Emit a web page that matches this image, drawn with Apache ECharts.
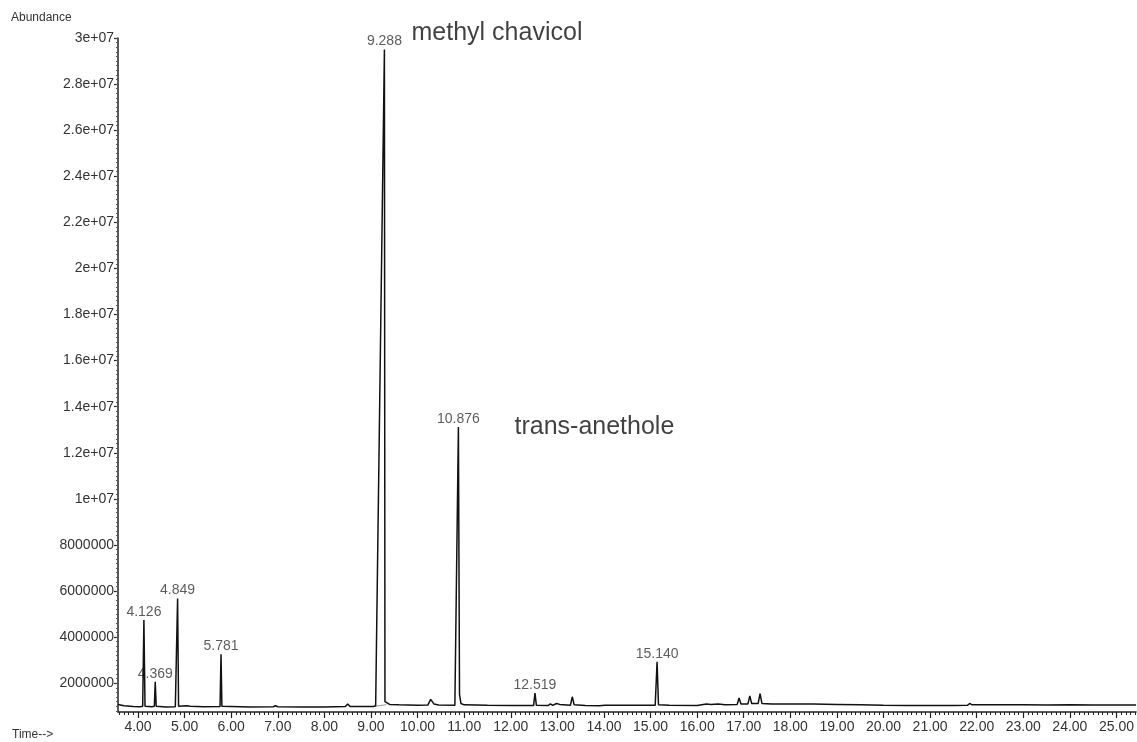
<!DOCTYPE html>
<html>
<head>
<meta charset="utf-8">
<script src="https://cdn.jsdelivr.net/npm/echarts@6/dist/echarts.min.js"></script>
<style>
html,body{margin:0;padding:0;background:#fff;}
#chart{width:1137px;height:742px;}
</style>
</head>
<body>
<div id="chart"></div>
<script>
// Retention time (min) and abundance of the trace
const traceTime = [3.57,3.70,3.90,4.05,4.10,4.126,4.15,4.30,4.35,4.369,4.39,4.60,4.80,4.83,4.849,4.87,5.05,5.08,5.12,5.40,5.76,5.781,5.80,6.00,6.40,6.90,6.95,7.00,7.50,8.00,8.45,8.50,8.55,9.05,9.10,9.288,9.30,9.31,9.40,9.60,10.00,10.22,10.28,10.35,10.45,10.80,10.82,10.876,10.90,10.93,11.00,11.50,12.00,12.49,12.519,12.55,12.80,12.85,12.90,12.98,13.05,13.28,13.32,13.36,13.60,13.90,14.02,14.05,14.09,14.33,14.36,14.40,14.64,14.67,14.71,15.10,15.140,15.17,15.40,16.00,16.20,16.30,16.45,16.60,16.86,16.90,16.94,17.09,17.13,17.17,17.31,17.35,17.39,17.60,18.00,18.50,19.00,19.50,20.00,20.50,21.00,21.50,21.80,21.85,21.90,22.50,23.00,23.50,24.00,24.50,25.00,25.42];
const traceAbundance = [1.08e6,1.02e6,0.99e6,0.98e6,1.00e6,4.74e6,1.00e6,0.98e6,1.00e6,2.06e6,1.00e6,0.97e6,0.98e6,1.00e6,5.68e6,1.00e6,1.02e6,1.08e6,1.00e6,0.98e6,0.99e6,3.26e6,1.00e6,0.99e6,0.97e6,0.98e6,1.02e6,0.98e6,0.97e6,0.97e6,0.99e6,1.10e6,0.99e6,0.99e6,1.02e6,2.95e7,1.20e6,1.12e6,1.08e6,1.06e6,1.04e6,1.05e6,1.30e6,1.10e6,1.05e6,1.04e6,1.05e6,1.312e7,1.50e6,1.12e6,1.06e6,1.04e6,1.03e6,1.03e6,1.57e6,1.04e6,1.03e6,1.10e6,1.04e6,1.12e6,1.08e6,1.04e6,1.41e6,1.06e6,1.03e6,1.02e6,1.04e6,1.12e6,1.04e6,1.04e6,1.09e6,1.04e6,1.04e6,1.09e6,1.04e6,1.04e6,2.93e6,1.06e6,1.04e6,1.03e6,1.10e6,1.08e6,1.10e6,1.06e6,1.08e6,1.36e6,1.10e6,1.10e6,1.45e6,1.12e6,1.12e6,1.55e6,1.12e6,1.10e6,1.10e6,1.10e6,1.08e6,1.06e6,1.04e6,1.03e6,1.03e6,1.03e6,1.04e6,1.12e6,1.06e6,1.07e6,1.06e6,1.05e6,1.06e6,1.05e6,1.05e6,1.05e6];

// Integration baseline under the main peak
const baselineTime = [9.10, 9.33];
const baselineAbundance = [1.00e6, 1.07e6];

// Labelled peaks
const peakTime = [4.126, 4.369, 4.849, 5.781, 9.288, 10.876, 12.519, 15.140];
const peakAbundance = [4.74e6, 2.06e6, 5.68e6, 3.26e6, 2.95e7, 1.312e7, 1.57e6, 2.93e6];

// Compound names
const compoundNames = ['methyl chavicol', 'trans-anethole'];
const compoundTime = [9.87, 12.08];
const compoundAbundance = [3.022e7, 1.31e7];

// Tick labels
const xTickValues = [4,5,6,7,8,9,10,11,12,13,14,15,16,17,18,19,20,21,22,23,24,25];
const yTickValues = [2e6,4e6,6e6,8e6,1e7,1.2e7,1.4e7,1.6e7,1.8e7,2e7,2.2e7,2.4e7,2.6e7,2.8e7,3e7];
const yTickLabels = ['2000000','4000000','6000000','8000000','1e+07','1.2e+07','1.4e+07','1.6e+07','1.8e+07','2e+07','2.2e+07','2.4e+07','2.6e+07','2.8e+07','3e+07'];

const X_MIN = 3.57, X_MAX = 25.42, Y_MIN = 750000, Y_MAX = 3e7;

const xMinor = [];
for (let i = 36; i <= 254; i++) xMinor.push(i / 10);
const yMinor = [];
for (let i = 4; i <= 150; i++) yMinor.push(i * 2e5);

const FONT = 'Liberation Sans, Arial, sans-serif';
const AXIS_COLOR = '#222';

const chart = echarts.init(document.getElementById('chart'), null, {renderer: 'canvas'});
const option = {
  animation: false,
  backgroundColor: '#fff',
  grid: {left: 118, right: 0, top: 38, bottom: 30},
  xAxis: [
    {
      type: 'value', min: X_MIN, max: X_MAX,
      axisLine: {lineStyle: {color: AXIS_COLOR, width: 1.5}},
      splitLine: {show: false},
      axisTick: {customValues: xTickValues, length: 6, lineStyle: {color: AXIS_COLOR, width: 1.2}},
      axisLabel: {customValues: xTickValues, formatter: v => Number(v).toFixed(2), color: '#333', fontSize: 14, margin: 8, fontFamily: FONT}
    },
    {
      type: 'value', min: X_MIN, max: X_MAX, position: 'bottom', offset: 0,
      axisLine: {show: false},
      splitLine: {show: false},
      axisTick: {customValues: xMinor, length: 3, lineStyle: {color: AXIS_COLOR, width: 1}},
      axisLabel: {show: false}
    }
  ],
  yAxis: [
    {
      type: 'value', min: Y_MIN, max: Y_MAX,
      axisLine: {show: true, lineStyle: {color: AXIS_COLOR, width: 1.5}},
      splitLine: {show: false},
      axisTick: {show: true, customValues: yTickValues, length: 4, lineStyle: {color: AXIS_COLOR, width: 1.2}},
      axisLabel: {customValues: yTickValues, formatter: v => { const i = yTickValues.indexOf(v); return i >= 0 ? yTickLabels[i] : ''; }, color: '#333', fontSize: 14, margin: 4, fontFamily: FONT}
    },
    {
      type: 'value', min: Y_MIN, max: Y_MAX, position: 'left', offset: 0,
      axisLine: {show: false},
      splitLine: {show: false},
      axisTick: {show: true, customValues: yMinor, length: 2, lineStyle: {color: '#555', width: 1}},
      axisLabel: {show: false}
    }
  ],
  graphic: [
    {type: 'text', left: 11, top: 12, style: {text: 'Abundance', font: '12px ' + FONT, fill: '#333'}},
    {type: 'text', left: 12, top: 729, style: {text: 'Time-->', font: '12px ' + FONT, fill: '#333'}}
  ],
  series: [
    {
      type: 'line', xAxisIndex: 0, yAxisIndex: 0,
      data: baselineTime.map((t, i) => [t, baselineAbundance[i]]),
      showSymbol: false, lineStyle: {color: '#9a9a9a', width: 1}, silent: true
    },
    {
      type: 'line', xAxisIndex: 0, yAxisIndex: 0,
      data: traceTime.map((t, i) => [t, traceAbundance[i]]),
      showSymbol: false, lineStyle: {color: '#111', width: 1.5}, silent: true
    },
    {
      type: 'scatter', xAxisIndex: 0, yAxisIndex: 0, symbolSize: 0, clip: false,
      data: peakTime.map((t, i) => [t, peakAbundance[i]]),
      label: {show: true, position: 'top', distance: 1, formatter: p => p.value[0].toFixed(3), color: '#333', fontSize: 14, fontFamily: FONT},
      silent: true
    },
    {
      type: 'scatter', xAxisIndex: 0, yAxisIndex: 0, symbolSize: 0, clip: false,
      data: compoundTime.map((t, i) => ({value: [t, compoundAbundance[i]], name: compoundNames[i]})),
      label: {show: true, position: 'right', distance: 0, formatter: p => p.name, color: '#111', fontSize: 25, fontFamily: FONT},
      silent: true
    }
  ]
};
chart.setOption(option);
</script>
</body>
</html>
